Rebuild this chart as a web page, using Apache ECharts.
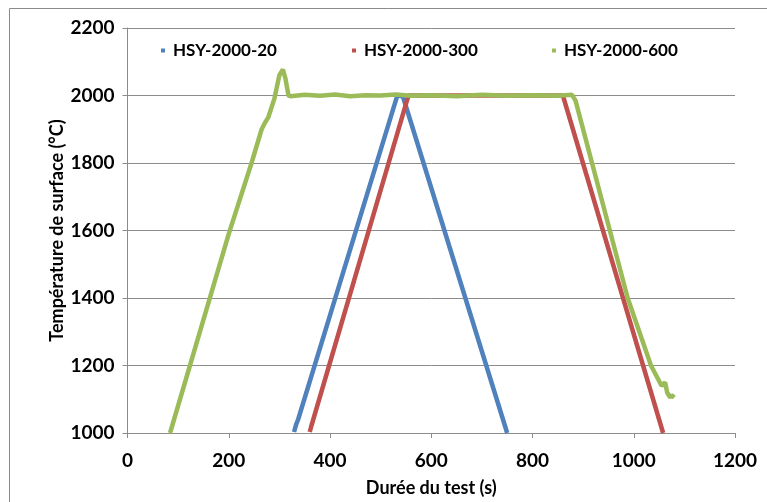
<!DOCTYPE html>
<html>
<head>
<meta charset="utf-8">
<script src="https://cdn.jsdelivr.net/npm/echarts@6/dist/echarts.min.js"></script>
<style>html,body{margin:0;padding:0;background:#fff;}#c{width:767px;height:502px;}</style>
</head>
<body>
<div id="c"></div>
<script>
// ---- data ----
var seriesNames = ['HSY-2000-20', 'HSY-2000-300', 'HSY-2000-600'];
var xTicks = [0, 200, 400, 600, 800, 1000, 1200];
var yTicks = [1000, 1200, 1400, 1600, 1800, 2000, 2200];

var blueTime = [329, 333, 337, 532, 537, 544, 750];
var blueTemp = [1003, 1025, 1040, 1995, 2000, 1997, 1000];

var redTime = [360, 363, 553, 556, 700, 860, 1058];
var redTemp = [1003, 1020, 1990, 2000, 2000, 2000, 1000];

var greenTime = [84, 88, 200, 245, 265, 270, 278, 290, 300, 307, 312, 318, 322,
  350, 380, 410, 440, 470, 500, 530, 560, 600, 650, 700, 750, 800, 850, 878,
  885, 988, 1034, 1055, 1062, 1066, 1072, 1075, 1080];
var greenTemp = [1000, 1020, 1590, 1800, 1900, 1915, 1935, 1990, 2060, 2077, 2050, 2000, 1998,
  2002, 1999, 2003, 1998, 2001, 2000, 2003, 1999, 2001, 1998, 2002, 1999, 2001, 1999, 2002,
  1985, 1400, 1200, 1140, 1150, 1120, 1105, 1112, 1105];

var colors = ['#4f81bd', '#c0504d', '#9bbb59'];

function pairs(xs, ys) { return xs.map(function (x, i) { return [x, ys[i]]; }); }

var FONT = 'Lato';
var chart = echarts.init(document.getElementById('c'));
var legendLefts = [156, 347, 547];

chart.setOption({
  animation: false,
  color: colors,
  graphic: [{
    type: 'rect', silent: true,
    shape: { x: 9.5, y: 8.5, width: 900, height: 900 },
    style: { fill: 'none', stroke: '#8a8a8a', lineWidth: 1 }
  }],
  legend: seriesNames.map(function (n, i) {
    return {
      data: [{ name: n, icon: 'rect' }],
      left: legendLefts[i], top: 37,
      itemWidth: 4, itemHeight: 4,
      textStyle: { fontFamily: FONT, fontWeight: 'bold', fontSize: 17, color: '#000', padding: [0, 0, 0, 3] }
    };
  }),
  grid: { left: 127.5, right: 32, top: 28, bottom: 68, containLabel: false },
  xAxis: {
    type: 'value', min: 0, max: 1200, interval: 200,
    name: 'Durée du test (s)', nameLocation: 'middle', nameGap: 46, nameMoveOverlap: false,
    nameTextStyle: { fontFamily: FONT, fontWeight: 'bold', fontSize: 18, color: '#000' },
    axisLine: { show: true, lineStyle: { color: '#8c8c8c', width: 1 } },
    axisTick: { show: true, length: 5, lineStyle: { color: '#8c8c8c' } },
    axisLabel: { fontFamily: FONT, fontWeight: 'bold', fontSize: 19, color: '#000', margin: 18,
      formatter: function (v) { return xTicks.indexOf(v) >= 0 ? String(v) : ''; } },
    splitLine: { show: false }
  },
  yAxis: {
    type: 'value', min: 1000, max: 2200, interval: 200,
    name: 'Température de surface (°C)', nameLocation: 'middle', nameGap: 61, nameMoveOverlap: false,
    nameTextStyle: { fontFamily: FONT, fontWeight: 'bold', fontSize: 18, color: '#000' },
    axisLine: { show: true, lineStyle: { color: '#8c8c8c', width: 1 } },
    axisTick: { show: true, length: 5, lineStyle: { color: '#8c8c8c' } },
    axisLabel: { fontFamily: FONT, fontWeight: 'bold', fontSize: 19, color: '#000', margin: 13,
      formatter: function (v) { return yTicks.indexOf(v) >= 0 ? String(v) : ''; } },
    splitLine: { show: true, lineStyle: { color: '#8c8c8c', width: 1 } }
  },
  series: [
    { name: seriesNames[0], type: 'line', data: pairs(blueTime, blueTemp), showSymbol: false, symbol: 'rect',
      lineStyle: { width: 4.5, color: colors[0] }, itemStyle: { color: colors[0] } },
    { name: seriesNames[1], type: 'line', data: pairs(redTime, redTemp), showSymbol: false, symbol: 'rect',
      lineStyle: { width: 4.5, color: colors[1] }, itemStyle: { color: colors[1] } },
    { name: seriesNames[2], type: 'line', data: pairs(greenTime, greenTemp), showSymbol: false, symbol: 'rect',
      lineStyle: { width: 4.5, color: colors[2] }, itemStyle: { color: colors[2] } }
  ]
});
</script>
</body>
</html>
